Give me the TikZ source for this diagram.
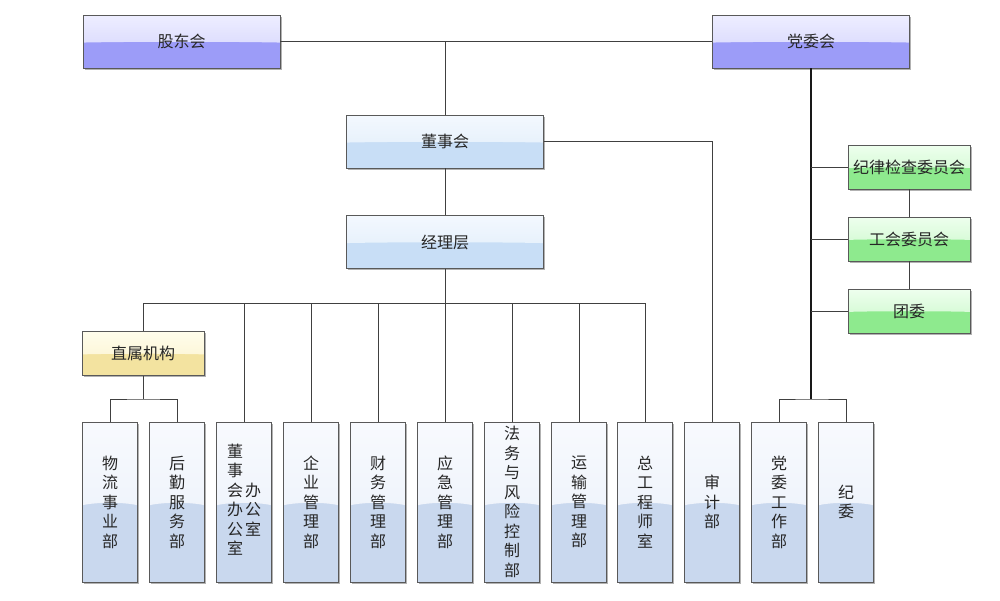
\documentclass[tikz,border=0pt]{standalone}
\usepackage{fontspec}
\newfontfamily\cjk{Noto Sans CJK SC}
\usetikzlibrary{shadows,calc}
\definecolor{pTop}{HTML}{EEEEFF}\definecolor{pMid}{HTML}{CFCFFD}\definecolor{pBase}{HTML}{9C9CF8}
\definecolor{bTop}{HTML}{F3F8FE}\definecolor{bMid}{HTML}{DDEBFA}\definecolor{bBase}{HTML}{C8DEF6}
\definecolor{gTop}{HTML}{EEFFEE}\definecolor{gMid}{HTML}{C4F7C4}\definecolor{gBase}{HTML}{8EEA8E}
\definecolor{yTop}{HTML}{FFFDEC}\definecolor{yMid}{HTML}{FBF1C8}\definecolor{yBase}{HTML}{F3E3A0}
\definecolor{dTop}{HTML}{F8FAFE}\definecolor{dMid}{HTML}{E8EFF9}\definecolor{dBase}{HTML}{C9D8EE}
\tikzset{
  gbox/.style n args={3}{draw=black!65, line width=0.8pt, fill=#3,
    drop shadow={shadow xshift=1.6pt, shadow yshift=-1.6pt, opacity=0.3, fill=black},
    inner sep=0pt, text=black!85, align=center,
    path picture={
      \fill[top color=#1, bottom color=#2]
        (path picture bounding box.north west) -- (path picture bounding box.north east)
        -- ($(path picture bounding box.north east)!0.52!(path picture bounding box.south east)$)
        .. controls ($(path picture bounding box.north east)!0.5!(path picture bounding box.south)$)
        and ($(path picture bounding box.north west)!0.5!(path picture bounding box.south)$) ..
        ($(path picture bounding box.north west)!0.52!(path picture bounding box.south west)$) -- cycle;
    }},
  purplebox/.style={gbox={pTop}{pMid}{pBase}, minimum width=197pt, minimum height=53pt, font=\cjk\fontsize{16}{20}\selectfont},
  bluebox/.style={gbox={bTop}{bMid}{bBase}, minimum width=197pt, minimum height=53pt, font=\cjk\fontsize{16}{20}\selectfont},
  greenbox/.style={gbox={gTop}{gMid}{gBase}, minimum width=122pt, minimum height=44pt, font=\cjk\fontsize{16}{20}\selectfont},
  yellowbox/.style={gbox={yTop}{yMid}{yBase}, minimum width=122pt, minimum height=44pt, font=\cjk\fontsize{16}{20}\selectfont},
  deptbox/.style={gbox={dTop}{dMid}{dBase}, minimum width=55pt, minimum height=160pt, font=\cjk\fontsize{16}{19.5}\selectfont},
  conn/.style={draw=black!75, line width=0.9pt},
}
\begin{document}
\begin{tikzpicture}[x=1pt,y=-1pt]
\useasboundingbox[fill=white] (0,0) rectangle (1000,600);
% top level
\node[purplebox] (gd) at (181.5,41.5) {股东会};
\node[purplebox] (dw) at (811,41.5) {党委会};
\node[bluebox] (dsh) at (445,141.5) {董事会};
\node[bluebox] (jl) at (445,242) {经理层};
\node[yellowbox] (zs) at (143,353.5) {直属机构};
\node[greenbox] (jj) at (909,167) {纪律检查委员会};
\node[greenbox] (gh) at (909,239) {工会委员会};
\node[greenbox] (tw) at (909,311) {团委};
% departments
\node[deptbox] (b1) at (110,502) {物\\流\\事\\业\\部};
\node[deptbox] (b2) at (177,502) {后\\勤\\服\\务\\部};
\node[deptbox] (b3) at (244,502) {\begin{tabular}{@{}c@{\hspace{2pt}}c@{}}董&\\事&\\会&办\\办&公\\公&室\\室&\end{tabular}};
\node[deptbox] (b4) at (311,502) {企\\业\\管\\理\\部};
\node[deptbox] (b5) at (378,502) {财\\务\\管\\理\\部};
\node[deptbox] (b6) at (445,502) {应\\急\\管\\理\\部};
\node[deptbox] (b7) at (512,502) {法\\务\\与\\风\\险\\控\\制\\部};
\node[deptbox] (b8) at (579,502) {运\\输\\管\\理\\部};
\node[deptbox] (b9) at (645,502) {总\\工\\程\\师\\室};
\node[deptbox] (b10) at (712,502) {审\\计\\部};
\node[deptbox] (b11) at (779,502) {党\\委\\工\\作\\部};
\node[deptbox] (b12) at (846,502) {纪\\委};
% connectors
\coordinate (busL) at (143,303);
\coordinate (busR) at (645,303);
\coordinate (zsb) at (143,399);
\coordinate (dwb) at (811,399);
\draw[conn] (gd.east) -- (dw.west);
\draw[conn] (dsh.north) -- (dsh.north |- gd.east);
\draw[conn] (dsh.south) -- (jl.north);
\draw[conn] (dsh.east) -| (b10.north);
\draw[conn] (jl.south) -- (jl.south |- busL);
\draw[conn] (busL) -- (busR);
\draw[conn] (busL) -- (zs.north);
\foreach \b in {b3,b4,b5,b6,b7,b8,b9} \draw[conn] (\b.north) -- (\b.north |- busL);
\draw[conn] (zs.south) -- (zsb);
\draw[conn] (b1.north) |- (zsb) -| (b2.north);
\draw[conn, line width=1.3pt, draw=black!90] (dw.south) -- (dwb);
\draw[conn] (b11.north) |- (dwb) -| (b12.north);
\foreach \g in {jj,gh,tw} \draw[conn] (\g.west) -- (\g.west -| dw.south);
\draw[conn] (jj.south) -- (gh.north);
\draw[conn] (gh.south) -- (tw.north);
\end{tikzpicture}
\end{document}
